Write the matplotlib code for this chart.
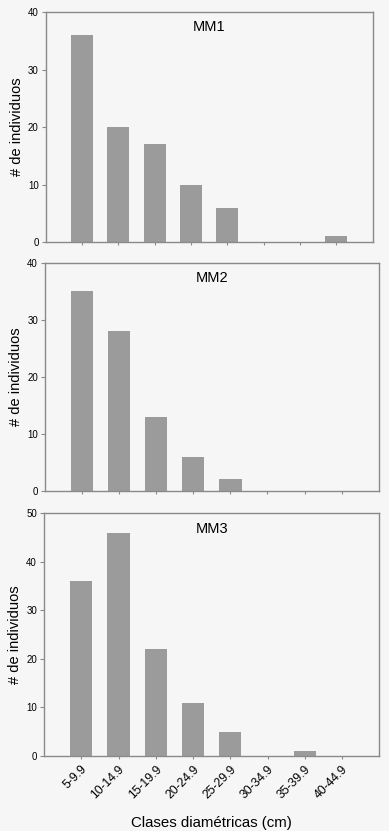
import matplotlib
matplotlib.use("Agg")
import matplotlib.pyplot as plt
import numpy as np

plt.rcParams['font.family'] = ['Liberation Sans', 'DejaVu Sans']

categories = ["5-9.9", "10-14.9", "15-19.9", "20-24.9", "25-29.9", "30-34.9", "35-39.9", "40-44.9"]
mm1 = [36, 20, 17, 10, 6, 0, 0, 1]
mm2 = [35, 28, 13, 6, 2, 0, 0, 0]
mm3 = [36, 46, 22, 11, 5, 0, 1, 0]
titles = ["MM1", "MM2", "MM3"]
ymaxes = [40, 40, 50]

W, H = 389, 831
fig = plt.figure(figsize=(W / 100, H / 100), dpi=100)
bg = '#f6f6f6'
fig.patch.set_facecolor(bg)

# pixel boxes: left, right, top, bottom
boxes = [(45.7, 372.7, 12.3, 242.0),
         (45.0, 378.7, 262.7, 490.7),
         (44.0, 379.3, 513.3, 756.0)]

spine_col = '#8a8a8a'
bar_col = '#9b9b9b'
x = np.arange(len(categories))

for i, (data, title, ymax, box) in enumerate(zip([mm1, mm2, mm3], titles, ymaxes, boxes)):
    l, r, t, b = box
    ax = fig.add_axes([l / W, 1 - b / H, (r - l) / W, (b - t) / H])
    ax.set_facecolor(bg)
    ax.bar(x, data, width=0.6, color=bar_col, edgecolor='none')
    ax.set_xlim(-1, 8)
    ax.set_ylim(0, ymax)
    ax.set_yticks(np.arange(0, ymax + 1, 10))
    ax.set_xticks(x)
    for s in ax.spines.values():
        s.set_color(spine_col)
        s.set_linewidth(1.0)
    ax.tick_params(axis='both', colors=spine_col, length=3, width=0.8, direction='out')
    ax.tick_params(axis='y', labelsize=7, labelcolor='black', pad=2)
    ax.tick_params(axis='x', length=2)
    ax.text(0.5, 0.935, title, transform=ax.transAxes, ha='center', va='center', fontsize=10.5)
    ax.set_ylabel("# de individuos", fontsize=10.5, labelpad=3)
    if i < 2:
        ax.set_xticklabels([])
    else:
        ax.set_xticklabels(categories, rotation=45, ha='right', rotation_mode='anchor',
                           fontsize=8.8, color='black')
        ax.tick_params(axis='x', pad=3, labelcolor='black')
        ax.set_xlabel("Clases diamétricas (cm)", fontsize=10.8, labelpad=11)

fig.savefig("out.png", dpi=100, facecolor=bg)
